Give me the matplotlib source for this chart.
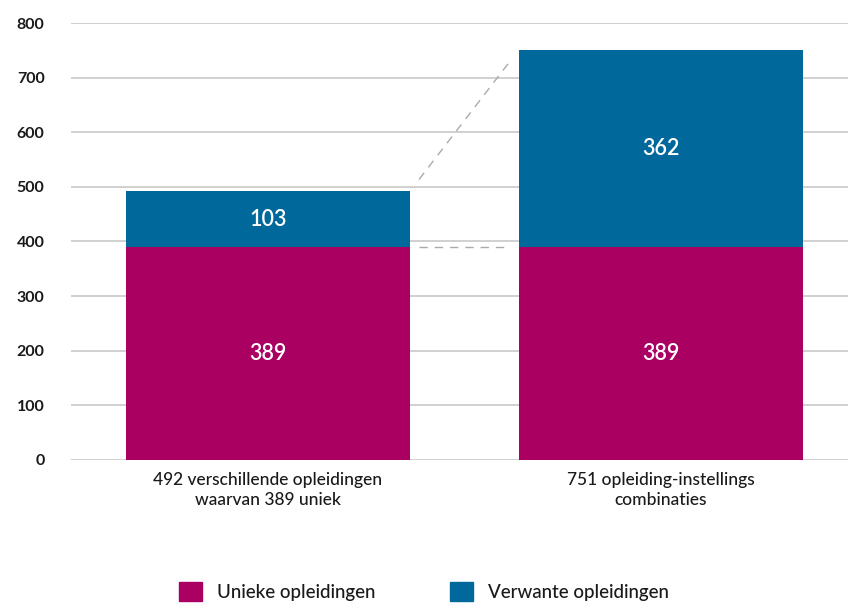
import numpy as np
import matplotlib.pyplot as plt
from matplotlib.patches import Patch

plt.rcParams['font.family'] = ['Lato', 'DejaVu Sans']

categories = ["492 verschillende opleidingen\nwaarvan 389 uniek", "751 opleiding-instellings\ncombinaties"]
uniek = [389, 389]
verwant = [103, 362]
series_names = ["Unieke opleidingen", "Verwante opleidingen"]
colors = ["#A90061", "#01689B"]

fig = plt.figure(figsize=(8.48, 6.06), dpi=100)
ax = fig.add_axes([0.0837, 0.241, 0.9163, 0.721])

x = np.arange(len(categories))
w = 0.723
ax.bar(x, uniek, w, color=colors[0], zorder=3)
ax.bar(x, verwant, w, bottom=uniek, color=colors[1], zorder=3)

# waarden in de balken
for i in range(len(x)):
    ax.text(x[i], uniek[i] / 2, str(uniek[i]), color='white', fontsize=15.5,
            fontweight='semibold', ha='center', va='center', zorder=4)
    ax.text(x[i], uniek[i] + verwant[i] / 2, str(verwant[i]), color='white', fontsize=15.5,
            fontweight='semibold', ha='center', va='center', zorder=4)

# stippellijnen tussen de balken
tot = np.array(uniek) + np.array(verwant)
x0, x1 = x[0] + w / 2, x[1] - w / 2
gap = 0.023
sl = (tot[1] - tot[0]) / (x1 - x0)
ax.plot([x0 + gap, x1 - gap], [tot[0] + sl * gap, tot[1] - sl * gap],
        ls=(0, (6, 5)), color='#aaaaaa', lw=1, zorder=2)
ax.plot([x0 + gap, x1 - gap], [uniek[0], uniek[1]],
        ls=(0, (6, 5)), color='#aaaaaa', lw=1, zorder=2)

ax.set_ylim(0, 800)
ax.set_xlim(-0.501, 1.476)
ax.set_yticks(range(0, 801, 100))
ax.set_xticks(x)
ax.set_xticklabels(categories, fontsize=12.5, color='#1a1a1a', linespacing=1.25,
                   fontweight='medium')
ax.tick_params(axis='y', labelsize=11.5, labelcolor='#1a1a1a', length=0, pad=19)
ax.tick_params(axis='x', length=0, pad=9)
for lbl in ax.get_yticklabels():
    lbl.set_fontweight('bold')
ax.grid(axis='y', color='#c8c8c8', lw=1.2, zorder=0)
for s in ax.spines.values():
    s.set_visible(False)

handles = [Patch(color=c) for c in colors]
leg = fig.legend(handles, series_names, loc='upper center', bbox_to_anchor=(0.5, 0.068),
                 ncol=2, frameon=False, fontsize=13.5, handlelength=1.2, handleheight=1.2,
                 columnspacing=4.0, handletextpad=0.8)
for t in leg.get_texts():
    t.set_fontweight('medium')
    t.set_color('#1a1a1a')

fig.savefig('out.png', dpi=100)
